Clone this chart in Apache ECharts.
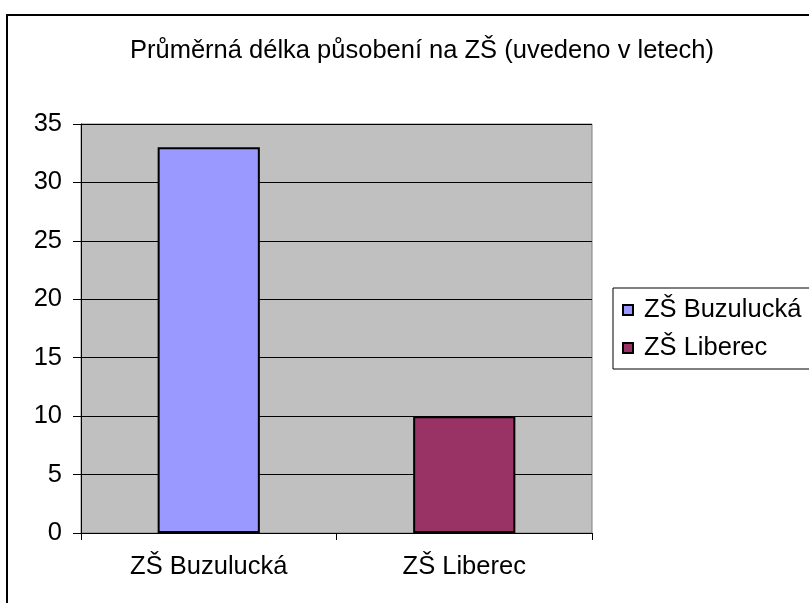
<!DOCTYPE html>
<html><head><meta charset="utf-8">
<script src="https://cdn.jsdelivr.net/npm/echarts@6/dist/echarts.min.js"></script>
<style>html,body{margin:0;padding:0;background:#fff}#c{width:809px;height:603px}</style>
</head><body><div id="c"></div>
<script>
const titleText = 'Průměrná délka působení na ZŠ (uvedeno v letech)';
const categories = ['ZŠ Buzulucká', 'ZŠ Liberec'];
const seriesNames = ['ZŠ Buzulucká', 'ZŠ Liberec'];
const buzuluckaValues = [33, '-'];
const liberecValues = ['-', 10];
const seriesColors = ['#9999FF', '#993366'];
const yMin = 0, yMax = 35, yStep = 5;

const FONT = "'Liberation Sans', Arial, sans-serif";
const FS = 25.5;
const chart = echarts.init(document.getElementById('c'));
chart.setOption({
  animation: false,
  backgroundColor: '#fff',
  textStyle: { fontFamily: FONT, color: '#000' },
  graphic: [{
    type: 'rect', silent: true, z: -10,
    shape: { x: 7, y: 15, width: 900, height: 700 },
    style: { fill: 'none', stroke: '#000', lineWidth: 2 }
  }],
  title: {
    text: titleText, left: 417, top: 33, textAlign: 'center',
    textStyle: { fontFamily: FONT, fontSize: FS, fontWeight: 'normal', color: '#000' }
  },
  legend: {
    orient: 'vertical', left: 613, top: 288,
    padding: [9, 40, 8, 9], itemGap: 12,
    itemWidth: 10, itemHeight: 10, icon: 'rect',
    borderColor: '#000', borderWidth: 1,
    textStyle: { fontFamily: FONT, fontSize: FS, color: '#000', padding: [0, 0, 0, 6] },
    data: seriesNames
  },
  grid: {
    left: 81, right: 217, top: 124, bottom: 70,
    show: true, backgroundColor: '#C0C0C0', borderColor: '#808080', borderWidth: 1
  },
  xAxis: {
    type: 'category', data: categories,
    axisLine: { lineStyle: { color: '#000', width: 1 } },
    axisTick: { show: true, length: 7, lineStyle: { color: '#000' } },
    axisLabel: { fontFamily: FONT, fontSize: FS, color: '#000', margin: 21 }
  },
  yAxis: {
    type: 'value', min: yMin, max: yMax, interval: yStep,
    axisLine: { show: true, lineStyle: { color: '#000', width: 1 } },
    axisTick: { show: true, length: 8, lineStyle: { color: '#000' } },
    axisLabel: { fontFamily: FONT, fontSize: FS, color: '#000', margin: 19 },
    splitLine: { show: true, lineStyle: { color: '#000', width: 1 } }
  },
  series: [
    { name: seriesNames[0], type: 'bar', stack: 's', data: buzuluckaValues, barCategoryGap: '60%',
      itemStyle: { color: seriesColors[0], borderColor: '#000', borderWidth: 2 } },
    { name: seriesNames[1], type: 'bar', stack: 's', data: liberecValues, barCategoryGap: '60%',
      itemStyle: { color: seriesColors[1], borderColor: '#000', borderWidth: 2 } }
  ]
});
</script></body></html>
